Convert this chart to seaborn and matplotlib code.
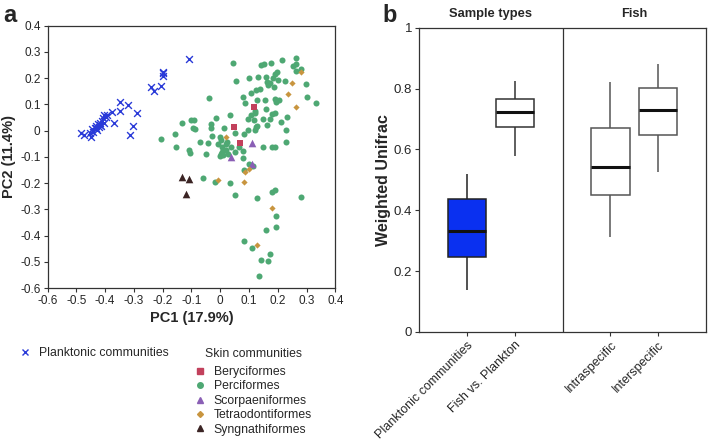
import numpy as np
import pandas as pd
import matplotlib
matplotlib.use("Agg")
import matplotlib.pyplot as plt
from matplotlib.lines import Line2D
import seaborn as sns

# ---- datos panel a (PCoA) ----
plankton_pc1 = [-0.485, -0.474, -0.453, -0.45, -0.442, -0.436, -0.43, -0.428, -0.423, -0.421,
                -0.416, -0.413, -0.407, -0.403, -0.398, -0.405, -0.393, -0.377, -0.37, -0.349,
                -0.347, -0.322, -0.312, -0.302, -0.288, -0.242, -0.23, -0.205, -0.2, -0.2,
                -0.2, -0.108, -0.445, -0.433, -0.418, -0.41]
plankton_pc2 = [-0.008, -0.016, -0.01, -0.023, -0.004, 0.009, 0.018, 0.003, 0.025, 0.013,
                0.03, 0.018, 0.047, 0.059, 0.053, 0.028, 0.059, 0.071, 0.028, 0.11,
                0.073, 0.099, -0.016, 0.019, 0.067, 0.167, 0.152, 0.17, 0.224, 0.208,
                0.218, 0.272, 0.005, 0.012, 0.02, 0.035]

bery_pc1 = [0.049, 0.067, 0.116]
bery_pc2 = [0.014, -0.048, 0.089]

scorp_pc1 = [0.11, 0.038, 0.11]
scorp_pc2 = [-0.046, -0.101, -0.127]

tetra_pc1 = [0.021, -0.009, 0.081, 0.087, 0.099, 0.18, 0.129, 0.25, 0.235, 0.265, 0.281]
tetra_pc2 = [-0.025, -0.187, -0.197, -0.157, -0.147, -0.294, -0.434, 0.182, 0.139, 0.089, 0.223]

syng_pc1 = [-0.134, -0.107, -0.119]
syng_pc2 = [-0.175, -0.184, -0.241]

perci_pc1 = [0.043, 0.056, -0.038, 0.101, 0.13, 0.142, 0.151, 0.177, 0.216, 0.264,
             0.252, 0.262, 0.262, 0.279, 0.158, 0.163, 0.166, 0.186, 0.192, 0.198,
             0.201, 0.224, 0.297, 0.3, 0.333, 0.107, 0.126, 0.078, 0.128, 0.085,
             0.156, 0.16, 0.195, 0.205, 0.192, 0.18, 0.233, 0.212, 0.122, 0.12,
             0.095, 0.148, 0.163, 0.123, 0.122, 0.128, 0.035, -0.014, -0.031, -0.033,
             0.012, -0.101, -0.09, -0.093, -0.088, -0.134, -0.158, -0.207, -0.153, -0.107,
             -0.104, -0.07, -0.05, -0.043, -0.027, -0.009, -0.002, 0.002, 0.005, 0.006,
             0.003, 0.009, 0.021, 0.02, 0.023, 0.028, 0.038, 0.053, 0.078, 0.078,
             0.052, 0.081, 0.095, 0.116, 0.147, 0.181, 0.192, 0.23, 0.081, 0.099,
             0.114, -0.059, -0.017, 0.035, 0.052, 0.129, 0.18, 0.192, 0.281, 0.159,
             0.193, 0.195, 0.084, 0.11, 0.142, 0.165, 0.174, 0.136, 0.227, 0.174,
             0.19, 0.064, 0.0, 0.172, 0.185, 0.138, 0.108]
perci_pc2 = [0.256, 0.189, 0.123, 0.201, 0.203, 0.249, 0.253, 0.259, 0.268, 0.278,
             0.248, 0.252, 0.228, 0.234, 0.203, 0.186, 0.173, 0.165, 0.215, 0.224,
             0.192, 0.19, 0.177, 0.127, 0.106, 0.144, 0.154, 0.127, 0.116, 0.104,
             0.116, 0.082, 0.11, 0.116, 0.119, 0.063, 0.053, 0.032, 0.076, 0.066,
             0.044, 0.044, 0.022, 0.013, 0.003, 0.018, 0.059, 0.047, 0.025, 0.011,
             0.009, 0.041, 0.041, 0.011, 0.005, 0.028, -0.013, -0.033, -0.063, -0.073,
             -0.086, -0.042, -0.09, -0.048, -0.02, -0.051, -0.023, -0.035, -0.061, -0.08,
             -0.089, -0.092, -0.073, -0.051, -0.042, -0.089, -0.061, -0.08, -0.076, -0.105,
             -0.01, -0.013, 0.003, 0.041, -0.061, -0.061, -0.063, -0.042, -0.149, -0.128,
             -0.133, -0.181, -0.194, -0.2, -0.244, -0.257, -0.232, -0.227, -0.251, -0.377,
             -0.324, -0.367, -0.422, -0.447, -0.491, -0.497, -0.468, -0.552, 0.003, 0.044,
             0.066, -0.061, -0.096, 0.18, 0.2, 0.16, 0.06]

# ---- datos panel b (estadisticos de las cajas: min, Q1, mediana, Q3, max) ----
box_labels = ["Planktonic communities", "Fish vs. Plankton", "Intraspecific", "Interspecific"]
box_low = [0.137, 0.579, 0.313, 0.525]
box_q1 = [0.246, 0.674, 0.451, 0.647]
box_med = [0.332, 0.722, 0.544, 0.729]
box_q3 = [0.436, 0.766, 0.67, 0.801]
box_high = [0.52, 0.825, 0.821, 0.882]

sns.set_style("white")
plt.rcParams['font.family'] = ['Liberation Sans', 'DejaVu Sans']

fig = plt.figure(figsize=(7.09, 4.42), dpi=100)
ax_a = fig.add_axes([0.067, 0.348, 0.406, 0.594])
ax_b = fig.add_axes([0.591, 0.249, 0.405, 0.688])

# ---- panel a ----
groups = [
    ("Planktonic communities", plankton_pc1, plankton_pc2, "x", "#2a3ad8", 24),
    ("Perciformes", perci_pc1, perci_pc2, "o", "#4ea873", 19),
    ("Beryciformes", bery_pc1, bery_pc2, "s", "#c2415c", 24),
    ("Scorpaeniformes", scorp_pc1, scorp_pc2, "^", "#8a5fb5", 30),
    ("Tetraodontiformes", tetra_pc1, tetra_pc2, "D", "#c8953f", 10),
    ("Syngnathiformes", syng_pc1, syng_pc2, "^", "#3b2424", 30),
]
for name, xs, ys, mk, col, sz in groups:
    df = pd.DataFrame({"PC1": xs, "PC2": ys})
    lw = 1.0 if mk == "x" else 0
    sns.scatterplot(data=df, x="PC1", y="PC2", marker=mk, color=col, s=sz,
                    linewidth=lw, ax=ax_a, legend=False, zorder=3)

ticks_a = np.arange(-0.6, 0.41, 0.1)
fmt = lambda v: "0" if abs(v) < 1e-9 else f"{v:.1f}"
ax_a.set_xlim(-0.6, 0.4)
ax_a.set_ylim(-0.6, 0.4)
ax_a.set_xticks(ticks_a)
ax_a.set_yticks(ticks_a)
ax_a.set_xticklabels([fmt(v) for v in ticks_a], fontsize=8.5)
ax_a.set_yticklabels([fmt(v) for v in ticks_a], fontsize=8.5)
ax_a.tick_params(direction="out", length=3, width=0.8, color="#333333", left=True, bottom=True, pad=2)
for sp in ax_a.spines.values():
    sp.set_color("#333333")
    sp.set_linewidth(0.9)
ax_a.set_xlabel("PC1 (17.9%)", fontsize=10.5, fontweight="bold", labelpad=3)
ax_a.set_ylabel("PC2 (11.4%)", fontsize=10.5, fontweight="bold", labelpad=3)

# leyendas
h_plank = [Line2D([], [], marker="x", color="#2a3ad8", linestyle="", markersize=5, markeredgewidth=1.0)]
fig.legend(h_plank, ["Planktonic communities"], loc="center left",
           bbox_to_anchor=(0.027, 0.201), frameon=False, fontsize=8.8,
           handlelength=1.0, handletextpad=0.6, borderpad=0, borderaxespad=0)
skin = [groups[2], groups[1], groups[3], groups[4], groups[5]]
h_skin = [Line2D([], [], marker=g[3], color=g[4], linestyle="", markersize=4 if g[3] != "D" else 3)
          for g in skin]
fig.legend(h_skin, [g[0] for g in skin], loc="upper left",
           bbox_to_anchor=(0.274, 0.172), frameon=False, fontsize=8.8,
           handlelength=1.0, handletextpad=0.6, labelspacing=0.2, borderpad=0, borderaxespad=0)
fig.text(205 / 709, 1 - 354 / 442, "Skin communities", fontsize=8.8, va="center", ha="left")

# ---- panel b ----
positions = [0, 1, 3, 4]
rows = []
for lab, lo, q1, md, q3, hi in zip(box_labels, box_low, box_q1, box_med, box_q3, box_high):
    for v in (lo, q1, md, q3, hi):
        rows.append({"grupo": lab, "valor": v})
bdf = pd.DataFrame(rows)

box_fill = ["#0a30f0", "white", "white", "white"]
edge_cols = ["#222222", "#333333", "#555555", "#555555"]
for i, lab in enumerate(box_labels):
    sub = bdf[bdf["grupo"] == lab]
    sns.boxplot(y=sub["valor"].values, ax=ax_b, positions=[positions[i]], width=0.8,
                whis=np.inf, color=box_fill[i], native_scale=True,
                linecolor=edge_cols[i], linewidth=1.1, fill=True,
                medianprops=dict(color="#111111", linewidth=2.2),
                boxprops=dict(facecolor=box_fill[i], edgecolor=edge_cols[i]),
                whiskerprops=dict(color=edge_cols[i]),
                showcaps=False)

ax_b.set_xlim(-1, 5)
ax_b.set_ylim(0, 1)
ax_b.axvline(2, color="#333333", linewidth=0.9)
ax_b.set_xticks(positions)
ax_b.set_xticklabels(box_labels, rotation=45, ha="right", rotation_mode="anchor", fontsize=9)
ax_b.set_yticks([0, 0.2, 0.4, 0.6, 0.8, 1])
ax_b.set_yticklabels(["0", "0.2", "0.4", "0.6", "0.8", "1"], fontsize=9.5)
ax_b.tick_params(direction="out", length=3, width=0.8, color="#333333", left=True, bottom=True, pad=2)
for sp in ax_b.spines.values():
    sp.set_color("#333333")
    sp.set_linewidth(0.9)
ax_b.set_xlabel("")
ax_b.set_ylabel("Weighted Unifrac", fontsize=11.5, fontweight="bold", labelpad=2)
ax_b.text(0.5, 1.025, "Sample types", fontsize=9.3, fontweight="bold", ha="center", va="bottom",
          transform=ax_b.get_xaxis_transform())
ax_b.text(3.5, 1.025, "Fish", fontsize=9.3, fontweight="bold", ha="center", va="bottom",
          transform=ax_b.get_xaxis_transform())

fig.text(0.005, 0.99, "a", fontsize=17, fontweight="bold", va="top")
fig.text(0.54, 0.99, "b", fontsize=17, fontweight="bold", va="top")

fig.savefig("out.png", dpi=100)
